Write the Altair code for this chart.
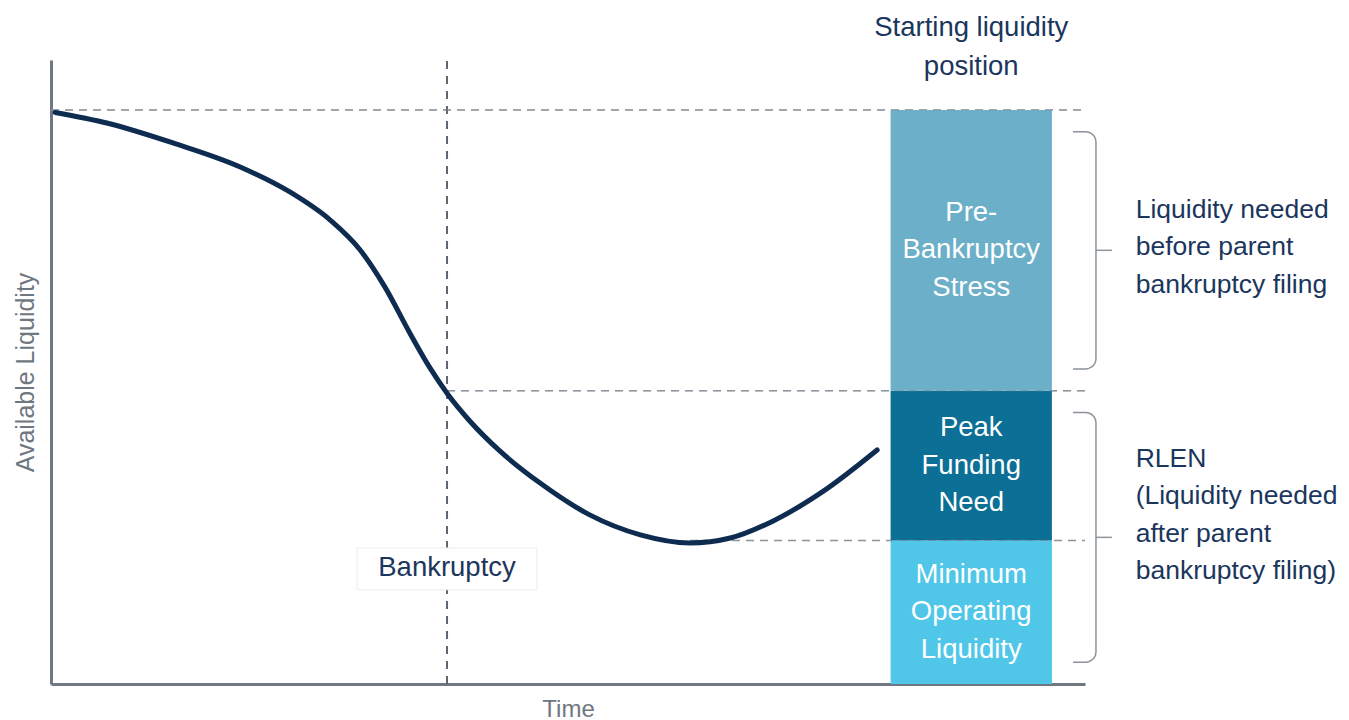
import altair as alt
import pandas as pd
import numpy as np

# ---------------- data ----------------
curve_time = [0.4, 5.4, 11.8, 18.3, 23.1, 27.0, 29.9, 32.3, 34.7, 36.65, 38.3, 40.5, 43.4,
              47.3, 52.1, 57.0, 61.8, 65.7, 69.8, 74.7, 79.9]
curve_liquidity = [91.6, 89.9, 86.7, 82.85, 78.85, 74.35, 69.55, 63.6, 56.25, 50.65, 46.6, 42.15,
                   37.35, 32.2, 27.1, 23.9, 22.6, 23.4, 26.1, 30.9, 37.5]

segment_names = ["Minimum Operating Liquidity", "Peak Funding Need", "Pre-Bankruptcy Stress"]
segment_labels = ["Minimum\nOperating\nLiquidity", "Peak\nFunding\nNeed", "Pre-\nBankruptcy\nStress"]
segment_values = [23, 24, 45]
segment_colors = ["#50c6e8", "#0b6f96", "#6cafc8"]

bankruptcy_time = 38.3
trough_time = 61.8
position_time = [81.2, 96.8]          # time span of the "starting liquidity position" column

brace_texts = ["Liquidity needed\nbefore parent\nbankruptcy filing",
               "RLEN\n(Liquidity needed\nafter parent\nbankruptcy filing)"]
brace_segments = [[2], [0, 1]]

FONT = "Liberation Sans"
NAVY = "#1b365d"
GRAY = "#6f7781"
DASH = "#8d949c"
FS = 27.5
LH = 37.5
H = 624
W = 1034
PXY = 100 / H  # data units per pixel (vertical)


def first_line_y(center, text, lh=LH):
    n = text.count("\n") + 1
    return center + (n - 1) / 2 * lh * PXY


# ---------------- derived tables ----------------
tops = list(np.cumsum(segment_values))
bottoms = [0] + tops[:-1]
mids = [(a + b) / 2 for a, b in zip(bottoms, tops)]
bars = pd.DataFrame({
    "name": segment_names, "label": segment_labels,
    "y0": bottoms, "y1": tops,
    "ytxt": [first_line_y(m, t) for m, t in zip(mids, segment_labels)],
    "x0": position_time[0], "x1": position_time[1],
    "xmid": (position_time[0] + position_time[1]) / 2,
})
curve = pd.DataFrame({"t": curve_time, "v": curve_liquidity})

hlines = pd.DataFrame({
    "x0": [0, bankruptcy_time, trough_time],
    "x1": [100, 100, 100],
    "y": [tops[2], tops[1], tops[0]],
})
vline = pd.DataFrame({"x": [bankruptcy_time], "y0": [0], "y1": [100]})

label_box = pd.DataFrame({"x0": [29.6], "x1": [47.0], "y0": [15.1], "y1": [21.8],
                          "xm": [bankruptcy_time], "ym": [18.6], "text": ["Bankruptcy"]})

top_label = "Starting liquidity\nposition"
top_text = pd.DataFrame({"x": [(position_time[0] + position_time[1]) / 2],
                         "y": [first_line_y(102.0, top_label, 39)],
                         "text": [top_label]})

# braces
xv, xh, xt = 101.06, 98.84, 102.6
rx, ry, inset = 1.0, 1.6, 3.5
brace_rows, tick_rows, text_rows = [], [], []
for bi, segs in enumerate(brace_segments):
    lo = bottoms[segs[0]] + inset
    hi = tops[segs[-1]] - inset
    pts = [(xh, hi)]
    for a in np.linspace(90, 0, 6):
        r = np.radians(a)
        pts.append((xv - rx + rx * np.cos(r), hi - ry + ry * np.sin(r)))
    for a in np.linspace(0, -90, 6):
        r = np.radians(a)
        pts.append((xv - rx + rx * np.cos(r), lo + ry + ry * np.sin(r)))
    pts.append((xh, lo))
    for i, (px, py) in enumerate(pts):
        brace_rows.append({"brace": bi, "i": i, "x": px, "y": py})
    mid = (lo + hi) / 2
    tick_rows.append({"x0": xv, "x1": xt, "y": mid})
    center = mid + (0.5 if bi == 0 else 3.6)
    text_rows.append({"x": 104.9, "y": first_line_y(center, brace_texts[bi]), "text": brace_texts[bi]})
braces = pd.DataFrame(brace_rows)
ticks = pd.DataFrame(tick_rows)
btexts = pd.DataFrame(text_rows)

# ---------------- scales / axes ----------------
SX = alt.Scale(domain=[0, 100], nice=False, zero=False)
SY = alt.Scale(domain=[0, 100], nice=False, zero=False)
AX = alt.Axis(title="Time", labels=False, ticks=False, grid=False, domainColor=GRAY,
              domainWidth=3, titleFont=FONT, titleFontSize=24, titleFontWeight="normal",
              titleColor=GRAY, titleX=W / 2, titleY=25, titleBaseline="middle", titleAlign="center")
AY = alt.Axis(title="Available Liquidity", labels=False, ticks=False, grid=False, domainColor=GRAY,
              domainWidth=3, titleFont=FONT, titleFontSize=25, titleFontWeight="normal",
              titleColor=GRAY, titleAngle=270, titleX=-26, titleY=H / 2,
              titleBaseline="middle", titleAlign="center")


def X(f):
    return alt.X(f"{f}:Q", scale=SX, axis=AX)


def Y(f):
    return alt.Y(f"{f}:Q", scale=SY, axis=AY)


# ---------------- layers ----------------
l_h = alt.Chart(hlines).mark_rule(color=DASH, strokeWidth=1.5, strokeDash=[8, 6]).encode(
    x=X("x0"), x2="x1:Q", y=Y("y"))
l_v = alt.Chart(vline).mark_rule(color="#5d6670", strokeWidth=2, strokeDash=[8, 7]).encode(
    x=X("x"), y=Y("y0"), y2="y1:Q")
l_bars = alt.Chart(bars).mark_rect().encode(
    x=X("x0"), x2="x1:Q", y=Y("y0"), y2="y1:Q",
    color=alt.Color("name:N", scale=alt.Scale(domain=segment_names, range=segment_colors), legend=None))
l_h2 = alt.Chart(hlines).mark_rule(color=DASH, strokeWidth=1, strokeDash=[8, 6], opacity=0.6).encode(
    x=X("x0"), x2="x1:Q", y=Y("y"))
l_curve = alt.Chart(curve).mark_line(color="#0e2b50", strokeWidth=5, interpolate="monotone",
                                     strokeCap="round").encode(x=X("t"), y=Y("v"))
l_blabels = alt.Chart(bars).mark_text(color="white", font=FONT, fontSize=FS, lineBreak="\n",
                                      lineHeight=LH, align="center", baseline="middle").encode(
    x=X("xmid"), y=Y("ytxt"), text="label:N")
l_box = alt.Chart(label_box).mark_rect(fill="white", stroke="#ececec", strokeWidth=1).encode(
    x=X("x0"), x2="x1:Q", y=Y("y0"), y2="y1:Q")
l_boxtext = alt.Chart(label_box).mark_text(color=NAVY, font=FONT, fontSize=FS, align="center",
                                           baseline="middle").encode(
    x=X("xm"), y=Y("ym"), text="text:N")
l_top = alt.Chart(top_text).mark_text(color=NAVY, font=FONT, fontSize=FS, lineBreak="\n",
                                      lineHeight=39, align="center", baseline="middle").encode(
    x=X("x"), y=Y("y"), text="text:N")
l_braces = alt.Chart(braces).mark_line(color="#8c939b", strokeWidth=1.5).encode(
    x=X("x"), y=Y("y"), detail="brace:N", order="i:Q")
l_ticks = alt.Chart(ticks).mark_rule(color="#8c939b", strokeWidth=1.5).encode(
    x=X("x0"), x2="x1:Q", y=Y("y"))
l_btext = alt.Chart(btexts).mark_text(color=NAVY, font=FONT, fontSize=26.5, lineBreak="\n",
                                      lineHeight=LH, align="left", baseline="middle").encode(
    x=X("x"), y=Y("y"), text="text:N")

chart = alt.layer(l_h, l_v, l_bars, l_h2, l_curve, l_blabels, l_box, l_boxtext, l_top,
                  l_braces, l_ticks, l_btext).properties(
    width=W, height=H,
    padding={"left": 43, "top": 52, "right": 256, "bottom": 38},
    autosize=alt.AutoSizeParams(type="none"),
    background="white",
).configure_view(stroke=None)

chart.save("out.html", embed_options={"renderer": "svg", "actions": False})
